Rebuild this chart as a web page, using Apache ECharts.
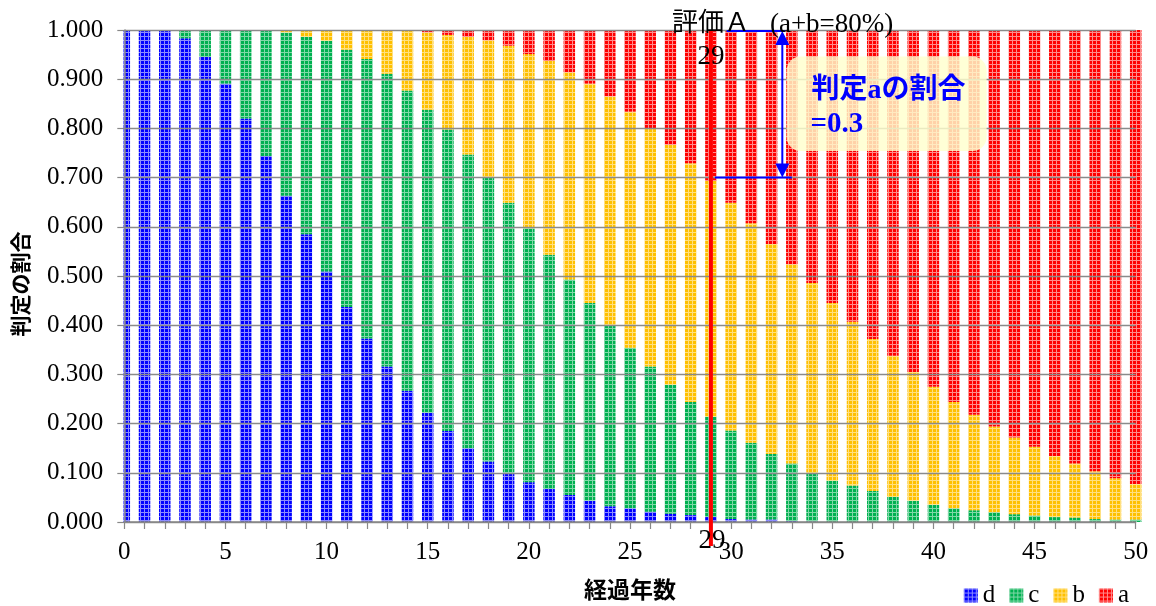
<!DOCTYPE html>
<html>
<head>
<meta charset="utf-8">
<script src="https://cdn.jsdelivr.net/npm/echarts@6/dist/echarts.min.js"></script>
<style>
html,body{margin:0;padding:0;background:#fff;}
#c{width:1156px;height:606px;}
</style>
</head>
<body>
<div id="c"></div>
<script>
// ---- data ----
const years = ['0','1','2','3','4','5','6','7','8','9','10','11','12','13','14','15','16','17','18','19','20',
  '21','22','23','24','25','26','27','28','29','30','31','32','33','34','35','36','37','38','39','40',
  '41','42','43','44','45','46','47','48','49','50'];
const dVals = [1,1,1,0.983,0.945,0.891,0.820,0.744,0.663,0.585,0.509,0.437,0.373,0.316,0.267,0.222,0.185,0.150,0.123,0.100,0.081,
  0.067,0.055,0.043,0.032,0.028,0.021,0.017,0.014,0.010,0.006,0.005,0.005,0.002,0.001,0,0,0,0,0,0,
  0,0,0,0,0,0,0,0,0,0];
const cVals = [0,0,0,0.017,0.055,0.109,0.180,0.255,0.332,0.401,0.469,0.523,0.568,0.595,0.610,0.616,0.613,0.597,0.576,0.549,0.516,
  0.476,0.438,0.402,0.367,0.326,0.295,0.262,0.230,0.204,0.180,0.156,0.133,0.117,0.098,0.084,0.074,0.063,0.051,0.043,0.035,
  0.028,0.024,0.020,0.016,0.013,0.010,0.009,0.006,0.005,0.005];
const bVals = [0,0,0,0,0,0,0,0.001,0.005,0.014,0.022,0.040,0.059,0.089,0.122,0.157,0.192,0.239,0.280,0.319,0.354,
  0.394,0.421,0.446,0.466,0.480,0.484,0.488,0.485,0.479,0.463,0.446,0.427,0.405,0.387,0.361,0.333,0.309,0.287,0.262,0.240,
  0.216,0.194,0.174,0.156,0.140,0.124,0.110,0.097,0.084,0.072];
const aVals = [0,0,0,0,0,0,0,0,0,0,0,0,0,0,0.001,0.005,0.010,0.014,0.021,0.032,0.049,
  0.063,0.086,0.109,0.135,0.166,0.200,0.233,0.271,0.307,0.351,0.393,0.435,0.476,0.514,0.555,0.593,0.628,0.662,0.695,0.725,
  0.756,0.782,0.806,0.828,0.847,0.866,0.881,0.897,0.911,0.923];
const yTicks = [0,0.1,0.2,0.3,0.4,0.5,0.6,0.7,0.8,0.9,1.0];
const evalYear = 29;          // 評価A year
const abLevel = 0.7;          // a+b boundary level (a ratio = 0.3)

// ---- styling helpers ----
function pat(base, light){
  const c = document.createElement('canvas'); c.width = 4; c.height = 4;
  const g = c.getContext('2d');
  g.fillStyle = base; g.fillRect(0,0,4,4);
  g.fillStyle = light; g.fillRect(0,0,4,1); g.fillRect(0,0,1,4);
  return {image: c, repeat: 'repeat'};
}
const serif = "'Liberation Serif','Noto Sans CJK JP',serif";
const gothic = "'Noto Sans CJK JP',sans-serif";

const chart = echarts.init(document.getElementById('c'), null, {renderer:'canvas'});
function mk(name, vals, color){
  return {name, type:'bar', stack:'t', data: vals, barWidth: 11.5, clip:false,
    itemStyle:{color}, emphasis:{disabled:true}, z:2, animation:false};
}
chart.setOption({
  animation:false,
  backgroundColor:'#fff',
  grid:{left:124.3, right:20.3, top:30, bottom:82, containLabel:false},
  legend:{right:22, top:578, itemWidth:14, itemHeight:14, itemGap:14, icon:'rect',
    textStyle:{fontFamily:serif, fontSize:25, color:'#000', padding:[0,0,0,0]},
    data:['d','c','b','a']},
  xAxis:{type:'category', data: years, boundaryGap:false, z:3,
    axisLine:{lineStyle:{color:'#888', width:1.5}},
    axisTick:{show:true, interval:0, length:7, lineStyle:{color:'#888', width:1.2}},
    axisLabel:{interval:4, margin:18, fontFamily:serif, fontSize:25, color:'#000'},
    splitLine:{show:false},
    name:'経過年数', nameLocation:'middle', nameGap:56,
    nameTextStyle:{fontFamily:gothic, fontWeight:'bold', fontSize:23, color:'#000'}},
  yAxis:{type:'value', min:0, max:1, interval:0.1, z:3,
    axisLine:{show:true, lineStyle:{color:'#888', width:1.5}},
    axisTick:{show:true, length:7, lineStyle:{color:'#888', width:1.2}},
    axisLabel:{margin:21, fontFamily:serif, fontSize:25, color:'#000',
      formatter: v => yTicks.some(t => Math.abs(t-v)<1e-9) ? v.toFixed(3) : ''},
    splitLine:{show:true, lineStyle:{color:'#8a8a8a', width:1.3}},
    name:'判定の割合', nameLocation:'middle', nameRotate:90, nameGap:94,
    nameTextStyle:{fontFamily:gothic, fontWeight:'bold', fontSize:21, color:'#000', padding:[0,16,0,0]}},
  series:[
    mk('d', dVals, pat('#0000FF','#8c8cff')),
    mk('c', cVals, pat('#00B050','#80d8a8')),
    mk('b', bVals, pat('#FFC000','#ffe080')),
    mk('a', aVals, pat('#FF0000','#ff8c8c'))
  ]
});

// ---- annotations positioned through the chart's own scales ----
const P = (x,y) => chart.convertToPixel({xAxisIndex:0, yAxisIndex:0}, [x,y]);
const x0 = P(0,0)[0], x50 = P(50,0)[0];
const xs = v => x0 + (x50-x0)*v/50;
const ys = v => P(0,v)[1];
const yTop = ys(1), yBot = ys(0), yAB = ys(abLevel);
const xe = xs(evalYear);
const ax = xs(evalYear+3.53);
const blue = '#0000FF';
const bx0 = xs(evalYear+3.74), bx1 = xs(evalYear+13.63), by0 = ys(0.946), by1 = ys(0.754);
chart.setOption({graphic:[
  {type:'rect', z:2.5, silent:true, shape:{x:x0-14, y:yTop, width:13.2, height:yBot-yTop}, style:{fill:'#fff'}},
  {type:'line', z:10, shape:{x1:xe, y1:yTop, x2:xe, y2:yBot+24}, style:{stroke:'#FF0000', lineWidth:4}},
  {type:'text', z:11, x:xe, y:yTop-9, style:{text:'評価Ａ', font:"26px "+gothic, fill:'#000', align:'center', verticalAlign:'middle'}},
  {type:'text', z:11, x:xe+59, y:yTop-5, style:{text:'(a+b=80%)', font:"27px "+serif, fill:'#000', align:'left', verticalAlign:'middle'}},
  {type:'text', z:11, x:xe, y:yTop+27, style:{text:String(evalYear), font:"27px "+serif, fill:'#000', align:'center', verticalAlign:'middle'}},
  {type:'text', z:11, x:xe+1, y:yBot+19, style:{text:String(evalYear), font:"27px "+serif, fill:'#000', align:'center', verticalAlign:'middle'}},
  {type:'line', z:10, shape:{x1:xs(evalYear+0.78), y1:yTop+1, x2:xs(evalYear+3.66), y2:yTop+1}, style:{stroke:blue, lineWidth:2}},
  {type:'line', z:10, shape:{x1:xs(evalYear+0.2), y1:yAB, x2:xs(evalYear+4.0), y2:yAB}, style:{stroke:blue, lineWidth:2}},
  {type:'line', z:10, shape:{x1:ax, y1:yTop+10, x2:ax, y2:yAB-10}, style:{stroke:blue, lineWidth:2}},
  {type:'polygon', z:10, shape:{points:[[ax,yTop+1],[ax-7,yTop+15],[ax+7,yTop+15]]}, style:{fill:blue}},
  {type:'polygon', z:10, shape:{points:[[ax,yAB],[ax-7,yAB-14],[ax+7,yAB-14]]}, style:{fill:blue}},
  {type:'rect', z:12, shape:{x:bx0, y:by0, width:bx1-bx0, height:by1-by0, r:14},
    style:{fill:'rgba(255,255,205,0.82)'}},
  {type:'text', z:13, x:bx0+25, y:(by0+by1)/2-13, style:{text:'判定aの割合', font:"bold 28px "+serif, fill:blue, align:'left', verticalAlign:'middle'}},
  {type:'text', z:13, x:bx0+24, y:(by0+by1)/2+21, style:{text:'=0.3', font:"bold 29px "+serif, fill:blue, align:'left', verticalAlign:'middle'}}
]});
</script>
</body>
</html>
